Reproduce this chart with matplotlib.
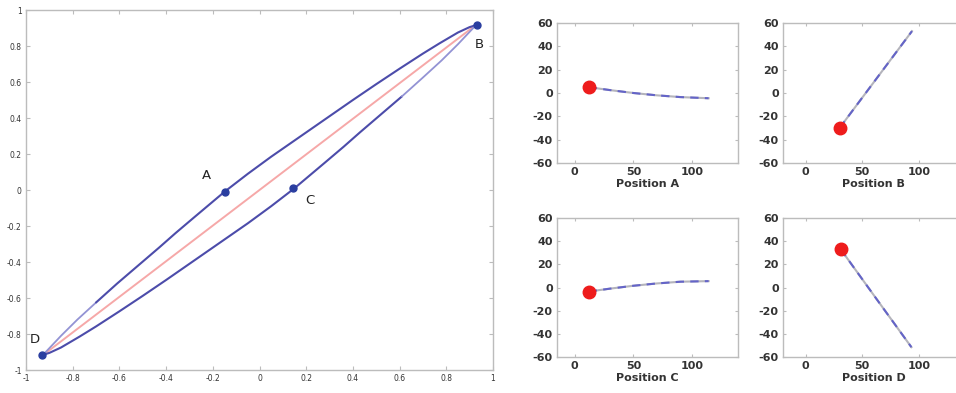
import matplotlib
matplotlib.use("Agg")
import matplotlib.pyplot as plt

plt.rcParams["axes.unicode_minus"] = False

# ---- main loop data ----
upper_x = [-0.93, -0.89, -0.85, -0.78, -0.70, -0.61, -0.52, -0.43, -0.36, -0.28, -0.15, -0.05, 0.05, 0.20, 0.30, 0.40, 0.50, 0.60, 0.70, 0.77, 0.85, 0.90, 0.93]
upper_y = [-0.92, -0.865, -0.81, -0.72, -0.625, -0.52, -0.42, -0.32, -0.24, -0.152, -0.01, 0.09, 0.185, 0.32, 0.41, 0.50, 0.588, 0.674, 0.758, 0.814, 0.875, 0.905, 0.917]
lower_x = [-0.93, -0.90, -0.85, -0.77, -0.70, -0.60, -0.50, -0.40, -0.30, -0.20, -0.05, 0.05, 0.15, 0.28, 0.36, 0.43, 0.52, 0.61, 0.70, 0.78, 0.85, 0.89, 0.93]
lower_y = [-0.917, -0.905, -0.875, -0.814, -0.758, -0.674, -0.588, -0.50, -0.41, -0.32, -0.185, -0.09, 0.01, 0.152, 0.24, 0.32, 0.42, 0.52, 0.625, 0.72, 0.81, 0.865, 0.92]
diag_x = [-0.93, 0.93]
diag_y = [-0.92, 0.92]
pt_names = ["A", "B", "C", "D"]
pt_x = [-0.147, 0.932, 0.144, -0.933]
pt_y = [-0.01, 0.917, 0.009, -0.917]
lbl_x = [-0.227, 0.943, 0.215, -0.961]
lbl_y = [0.083, 0.806, -0.056, -0.83]
main_ticks = [-1, -0.8, -0.6, -0.4, -0.2, 0, 0.2, 0.4, 0.6, 0.8, 1]
main_ticklabels = ["-1", "-0.8", "-0.6", "-0.4", "-0.2", "0", "0.2", "0.4", "0.6", "0.8", "1"]

# ---- small panels data ----
titles = ["Position A", "Position B", "Position C", "Position D"]
traj_x = [[12, 30, 50, 70, 90, 114],
          [30, 62, 94],
          [12, 30, 50, 70, 90, 114],
          [31, 62, 93.5]]
traj_y = [[5, 2.5, 0, -2, -3.5, -4.5],
          [-30, 11.5, 53],
          [-3.5, -1, 1.5, 3.5, 5, 5.5],
          [33, -9, -51.5]]
small_yticks = [-60, -40, -20, 0, 20, 40, 60]
small_xticks = [0, 50, 100]

W, H = 956, 393
fig = plt.figure(figsize=(W / 100, H / 100), dpi=100)

def frac(l, t, r, b):
    return [l / W, 1 - b / H, (r - l) / W, (b - t) / H]

spine_c = "#bcbcbc"
text_c = "#333333"
dark_blue = "#4c4caa"
light_blue = "#9393d4"

ax = fig.add_axes(frac(26, 10, 493, 370))
ax.plot(diag_x, diag_y, color="#f6a8a8", lw=1.4, zorder=2)
# upper: light near D, dark after
ax.plot(upper_x[:5], upper_y[:5], color=light_blue, lw=1.3, zorder=3, solid_capstyle="round")
ax.plot(upper_x[4:], upper_y[4:], color=dark_blue, lw=1.5, zorder=3, solid_capstyle="round")
ax.plot(lower_x[:-5], lower_y[:-5], color=dark_blue, lw=1.5, zorder=3, solid_capstyle="round")
ax.plot(lower_x[-6:], lower_y[-6:], color=light_blue, lw=1.3, zorder=3, solid_capstyle="round")
ax.plot(pt_x, pt_y, "o", color="#2a3ea0", ms=5, zorder=4)
for n, x, y in zip(pt_names, lbl_x, lbl_y):
    ax.text(x, y, n, fontsize=9.5, color="#222222", ha="center", va="center")
ax.set_xlim(-1, 1)
ax.set_ylim(-1, 1)
ax.set_xticks(main_ticks)
ax.set_yticks(main_ticks)
ax.set_xticklabels(main_ticklabels)
ax.set_yticklabels(main_ticklabels)
ax.tick_params(direction="in", length=3, width=0.8, color=spine_c, labelsize=5.5,
               labelcolor=text_c, top=True, right=True, pad=3)
for s in ax.spines.values():
    s.set_color(spine_c)
    s.set_linewidth(1.0)

boxes = [(557, 23, 738, 163), (783, 23, 964, 163), (557, 218, 738, 357), (783, 218, 964, 357)]
xlims = [(-15, 139), (-20, 140), (-15, 139), (-20, 140)]
for i in range(4):
    a = fig.add_axes(frac(*boxes[i]))
    a.plot(traj_x[i], traj_y[i], color="#b4b4bc", lw=1.5, zorder=2)
    a.plot(traj_x[i], traj_y[i], color="#6464c8", lw=1.5, ls=(0, (4, 3)), zorder=3)
    a.plot([traj_x[i][0]], [traj_y[i][0]], "o", color="#ee1c1c", ms=9, zorder=4)
    a.set_xlim(*xlims[i])
    a.set_ylim(-60, 60)
    a.set_xticks(small_xticks)
    a.set_yticks(small_yticks)
    a.tick_params(direction="in", length=2, width=0.8, color=spine_c, labelsize=8,
                  labelcolor=text_c, top=True, right=True, pad=3)
    for lab in a.get_xticklabels() + a.get_yticklabels():
        lab.set_fontweight("bold")
    a.set_xlabel(titles[i], fontsize=8, fontweight="bold", color=text_c, labelpad=1)
    for s in a.spines.values():
        s.set_color(spine_c)
        s.set_linewidth(1.0)

fig.savefig("out.png", dpi=100)
